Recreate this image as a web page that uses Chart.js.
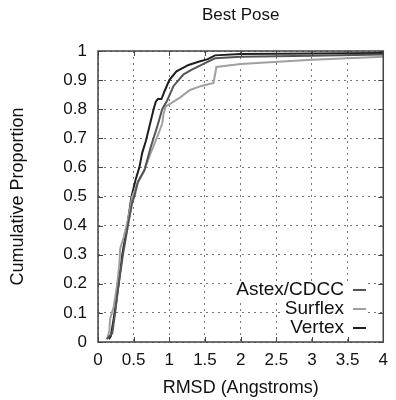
<!DOCTYPE html>
<html>
<head>
<meta charset="utf-8">
<script src="https://cdn.jsdelivr.net/npm/chart.js@4.4.1/dist/chart.umd.min.js"></script>
<style>
  html, body { margin: 0; padding: 0; background: #fff; }
  #wrap { width: 396px; height: 400px; }
</style>
</head>
<body>
<div id="wrap"><canvas id="chart" width="396" height="400"></canvas></div>
<script>
// Data
const seriesNames = ['Astex/CDCC', 'Surflex', 'Vertex'];

const astexX = [0.12, 0.20, 0.24, 0.29, 0.35, 0.42, 0.48, 0.51, 0.56, 0.65, 0.74, 0.83, 0.90, 0.97, 1.06, 1.20, 1.31, 1.50, 1.64, 2.00, 3.00, 4.00];
const astexY = [0.01, 0.03, 0.10, 0.20, 0.30, 0.40, 0.48, 0.50, 0.55, 0.59, 0.67, 0.74, 0.80, 0.83, 0.88, 0.92, 0.935, 0.958, 0.975, 0.98, 0.984, 0.988];

const surflexX = [0.13, 0.16, 0.17, 0.22, 0.27, 0.30, 0.31, 0.36, 0.42, 0.48, 0.56, 0.65, 0.74, 0.83, 0.90, 0.92, 0.95, 1.02, 1.15, 1.29, 1.45, 1.62, 1.66, 2.00, 3.00, 4.00];
const surflexY = [0.01, 0.04, 0.08, 0.12, 0.20, 0.27, 0.32, 0.36, 0.42, 0.50, 0.55, 0.59, 0.65, 0.705, 0.75, 0.785, 0.81, 0.82, 0.84, 0.866, 0.88, 0.89, 0.945, 0.955, 0.97, 0.98];

const vertexX = [0.15, 0.18, 0.22, 0.25, 0.29, 0.34, 0.41, 0.47, 0.53, 0.58, 0.62, 0.67, 0.73, 0.78, 0.81, 0.84, 0.89, 0.93, 1.00, 1.10, 1.27, 1.41, 1.54, 1.64, 2.00, 4.00];
const vertexY = [0.01, 0.02, 0.08, 0.13, 0.20, 0.30, 0.40, 0.50, 0.56, 0.60, 0.65, 0.69, 0.75, 0.80, 0.826, 0.835, 0.835, 0.86, 0.90, 0.93, 0.952, 0.963, 0.972, 0.985, 0.99, 0.993];

const xTicks = [0, 0.5, 1, 1.5, 2, 2.5, 3, 3.5, 4];
const yTicks = [0, 0.1, 0.2, 0.3, 0.4, 0.5, 0.6, 0.7, 0.8, 0.9, 1];

const lineColors = ['#555555', '#a0a0a0', '#1e1e1e'];
const FONT = '"Liberation Sans", Arial, sans-serif';

function toPoints(xs, ys) {
    return xs.map((x, i) => ({ x: x, y: ys[i] }));
}

// Frame, inner tick marks, legend and title (gnuplot look)
const decorPlugin = {
    id: 'decor',
    afterDatasetsDraw(chart) {
        const ctx = chart.ctx;
        const a = chart.chartArea;
        const xs = chart.scales.x, ys = chart.scales.y;
        ctx.save();

        // legend inside the plot, bottom right
        ctx.font = '19px ' + FONT;
        ctx.textAlign = 'right';
        ctx.textBaseline = 'middle';
        const rows = [290, 309, 328];
        chart.data.datasets.forEach((ds, i) => {
            const w = ctx.measureText(ds.label).width;
            ctx.fillStyle = '#fff';
            ctx.fillRect(344 - w - 4, rows[i] - 9, w + 26, 18);
            ctx.fillStyle = '#111';
            ctx.fillText(ds.label, 344, rows[i]);
            ctx.strokeStyle = ds.borderColor;
            ctx.lineWidth = 2;
            ctx.beginPath();
            ctx.moveTo(353, rows[i]);
            ctx.lineTo(366, rows[i]);
            ctx.stroke();
        });

        // tick marks inside frame
        ctx.strokeStyle = '#444';
        ctx.lineWidth = 1;
        ctx.beginPath();
        xTicks.forEach(v => {
            const px = Math.round(xs.getPixelForValue(v)) + 0.5;
            ctx.moveTo(px, a.bottom); ctx.lineTo(px, a.bottom - 5);
            ctx.moveTo(px, a.top); ctx.lineTo(px, a.top + 5);
        });
        yTicks.forEach(v => {
            const py = Math.round(ys.getPixelForValue(v)) + 0.5;
            ctx.moveTo(a.left, py); ctx.lineTo(a.left + 5, py);
            ctx.moveTo(a.right, py); ctx.lineTo(a.right - 5, py);
        });
        ctx.stroke();

        // frame
        ctx.strokeStyle = '#444';
        ctx.lineWidth = 1.5;
        ctx.strokeRect(a.left, a.top, a.right - a.left, a.bottom - a.top);

        // title
        ctx.fillStyle = '#111';
        ctx.font = '17px ' + FONT;
        ctx.textAlign = 'center';
        ctx.textBaseline = 'middle';
        ctx.fillText('Best Pose', (a.left + a.right) / 2, 15);
        ctx.restore();
    }
};

const ctx = document.getElementById('chart').getContext('2d');
new Chart(ctx, {
    type: 'line',
    data: {
        datasets: [
            { label: seriesNames[0], data: toPoints(astexX, astexY), borderColor: lineColors[0] },
            { label: seriesNames[1], data: toPoints(surflexX, surflexY), borderColor: lineColors[1] },
            { label: seriesNames[2], data: toPoints(vertexX, vertexY), borderColor: lineColors[2] }
        ]
    },
    options: {
        responsive: false,
        animation: false,
        events: [],
        layout: { padding: { top: 51, right: 4, left: 0, bottom: 0 } },
        elements: {
            point: { radius: 0 },
            line: { borderWidth: 2, tension: 0, fill: false }
        },
        plugins: {
            legend: { display: false },
            title: { display: false },
            tooltip: { enabled: false }
        },
        scales: {
            x: {
                type: 'linear',
                min: 0,
                max: 4,
                afterBuildTicks(scale) { scale.ticks = xTicks.map(v => ({ value: v })); },
                afterFit(scale) { scale.height = 58; },
                grid: { color: '#777', drawTicks: false, lineWidth: 1 },
                border: { display: false, dash: [2, 4] },
                ticks: {
                    color: '#111',
                    padding: 8,
                    maxRotation: 0,
                    font: { family: FONT, size: 17 },
                    callback: v => String(v)
                },
                title: {
                    display: true,
                    text: 'RMSD (Angstroms)',
                    color: '#111',
                    font: { family: FONT, size: 18 },
                    padding: { top: 3, bottom: 1 }
                }
            },
            y: {
                type: 'linear',
                min: 0,
                max: 1,
                afterBuildTicks(scale) { scale.ticks = yTicks.map(v => ({ value: v })); },
                afterFit(scale) { scale.width = 98; },
                grid: { color: '#777', drawTicks: false, lineWidth: 1 },
                border: { display: false, dash: [2, 4] },
                ticks: {
                    color: '#111',
                    padding: 11,
                    font: { family: FONT, size: 17 },
                    callback: v => String(v)
                },
                title: {
                    display: true,
                    text: 'Cumulative Proportion',
                    color: '#111',
                    font: { family: FONT, size: 18 },
                    padding: { top: 7, bottom: 4 }
                }
            }
        }
    },
    plugins: [decorPlugin]
});
</script>
</body>
</html>
